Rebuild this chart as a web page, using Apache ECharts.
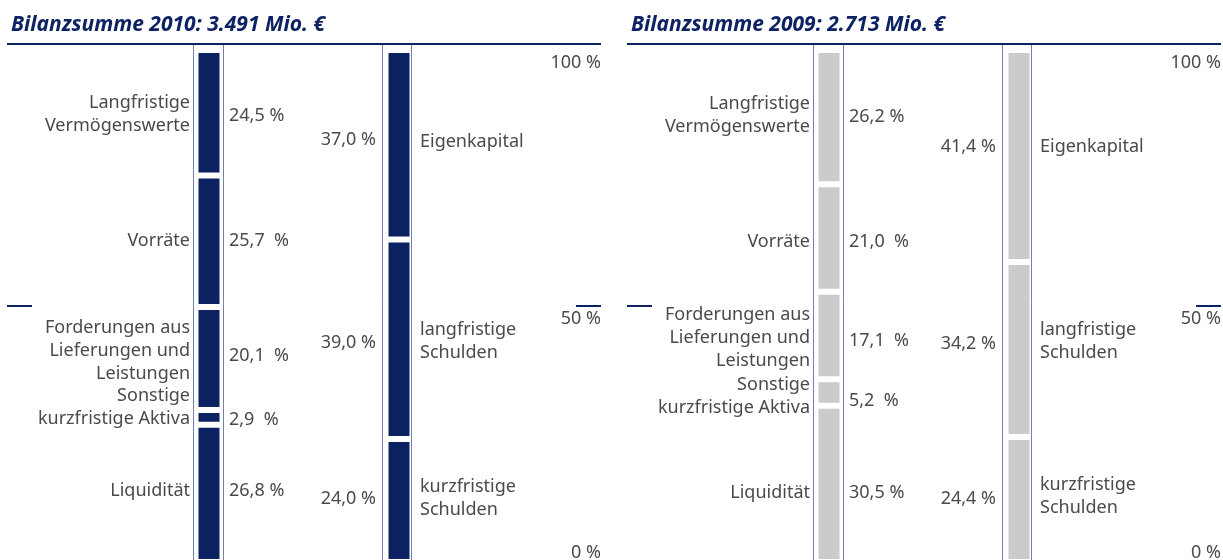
<!DOCTYPE html>
<html>
<head>
<meta charset="utf-8">
<script src="https://cdn.jsdelivr.net/npm/echarts@6/dist/echarts.min.js"></script>
<style>
  html, body { margin: 0; padding: 0; background: #fff; }
  #chart { width: 1223px; height: 560px; }
</style>
</head>
<body>
<div id="chart"></div>
<script>
// Bilanzstruktur in % der Bilanzsumme (von oben nach unten)
const aktivaNames = ['Langfristige\nVermögenswerte', 'Vorräte', 'Forderungen aus\nLieferungen und\nLeistungen', 'Sonstige\nkurzfristige Aktiva', 'Liquidität'];
const passivaNames = ['Eigenkapital', 'langfristige\nSchulden', 'kurzfristige\nSchulden'];

const aktiva2010 = [24.5, 25.7, 20.1, 2.9, 26.8];
const passiva2010 = [37.0, 39.0, 24.0];
const aktiva2009 = [26.2, 21.0, 17.1, 5.2, 30.5];
const passiva2009 = [41.4, 34.2, 24.4];

const aktivaLabels2010 = ['24,5 %', '25,7  %', '20,1  %', '2,9  %', '26,8 %'];
const passivaLabels2010 = ['37,0 %', '39,0 %', '24,0 %'];
const aktivaLabels2009 = ['26,2 %', '21,0  %', '17,1  %', '5,2  %', '30,5 %'];
const passivaLabels2009 = ['41,4 %', '34,2 %', '24,4 %'];

const scaleTicks = [0, 50, 100];
const scaleLabels = ['0 %', '50 %', '100 %'];

const titles = ['Bilanzsumme 2010: 3.491 Mio. €', 'Bilanzsumme 2009: 2.713 Mio. €'];

// kleine Verschiebungen der Beschriftungen wie im Original
const labelShift = [
  { an: [2, 0, -8, -10, -3], av: [3, 0, -3, 3, -3], pn: [-3, 2, -2], pv: [-5, 4, -2] },
  { an: [-2, 4, 2, 4, 9], av: [0, 4, 5, 8, 9], pn: [-9, -8, -3], pv: [-9, -6, -1] }
];

const NAVY = '#0c2262';
const TEXT = '#4a4a4a';
const FONT = 'Noto Sans';
const FRAME = '#7180ad';

const panels = [
  { ox: 0, aktiva: aktiva2010, passiva: passiva2010, al: aktivaLabels2010, pl: passivaLabels2010, color: '#0b2160' },
  { ox: 620, aktiva: aktiva2009, passiva: passiva2009, al: aktivaLabels2009, pl: passivaLabels2009, color: '#cbcbcb' }
];

const grid = [], xAxis = [], yAxis = [], series = [], title = [], graphic = [];

const labelBase = { color: TEXT, fontFamily: FONT, fontSize: 18, lineHeight: 23 };

panels.forEach((p, pi) => {
  const ox = p.ox;
  const g0 = grid.length;
  // Rahmen der Säulen
  grid.push({ left: ox + 193.5, top: 44, width: 30, height: 540, show: true, borderColor: FRAME, borderWidth: 1, z: 10, outerBoundsMode: 'none' });
  grid.push({ left: ox + 382.5, top: 44, width: 29, height: 540, show: true, borderColor: FRAME, borderWidth: 1, z: 10, outerBoundsMode: 'none' });
  // Säulen
  grid.push({ left: ox + 194, top: 50, width: 30, height: 512, outerBoundsMode: 'none' });
  grid.push({ left: ox + 385, top: 50, width: 28, height: 512, outerBoundsMode: 'none' });

  for (let k = 0; k < 4; k++) {
    xAxis.push({ type: 'category', gridIndex: g0 + k, data: [''], show: false });
  }
  const y0 = yAxis.length;
  const hiddenY = (gi) => ({ type: 'value', gridIndex: gi, min: 0, max: 100, show: false });
  yAxis.push(hiddenY(g0));
  yAxis.push(hiddenY(g0 + 1));
  yAxis.push(hiddenY(g0 + 2));      // Aktiva
  yAxis.push(hiddenY(g0 + 3));      // Passiva
  // Markierung 50 % links
  yAxis.push({
    type: 'value', gridIndex: g0 + 2, min: 0, max: 100, position: 'left', offset: 162,
    axisLine: { show: false }, splitLine: { show: false }, axisLabel: { show: false },
    axisTick: { show: true, customValues: [scaleTicks[1]], length: 25, lineStyle: { color: NAVY, width: 2 } }
  });
  // Skala rechts
  yAxis.push({
    type: 'value', gridIndex: g0 + 3, min: 0, max: 100, position: 'right', offset: 163,
    axisLine: { show: false }, splitLine: { show: false },
    axisTick: { show: true, customValues: [scaleTicks[1]], length: 25, lineStyle: { color: NAVY, width: 2 } },
    axisLabel: {
      customValues: [scaleTicks[1], scaleTicks[2]], margin: 25, align: 'right', verticalAlign: 'top',
      color: TEXT, fontFamily: FONT, fontSize: 18, lineHeight: 26,
      formatter: (v) => scaleLabels[scaleTicks.indexOf(v)]
    }
  });
  yAxis.push({
    type: 'value', gridIndex: g0 + 3, min: 0, max: 100, position: 'right', offset: 163,
    axisLine: { show: false }, splitLine: { show: false }, axisTick: { show: false },
    axisLabel: {
      customValues: [scaleTicks[0]], margin: 25, align: 'right', verticalAlign: 'bottom',
      color: TEXT, fontFamily: FONT, fontSize: 18,
      formatter: (v) => scaleLabels[scaleTicks.indexOf(v)]
    }
  });
  // Platzhalter-Serien für die Rahmen-Gitter
  series.push({ type: 'bar', xAxisIndex: g0, yAxisIndex: y0, data: [], silent: true });
  series.push({ type: 'bar', xAxisIndex: g0 + 1, yAxisIndex: y0 + 1, data: [], silent: true });

  const sh = labelShift[pi];
  const addColumn = (values, names, texts, axisIdx, yIdx, nameSide, valSide, nDist, vDist, nShift, vShift, key) => {
    for (let i = values.length - 1; i >= 0; i--) {
      series.push({
        type: 'bar', xAxisIndex: axisIdx, yAxisIndex: yIdx, stack: key, barWidth: 27, barGap: '-100%',
        data: [values[i]], silent: true,
        itemStyle: { color: p.color, borderColor: '#ffffff', borderWidth: 3 },
        label: Object.assign({ show: true, position: nameSide, distance: nDist, formatter: names[i] }, labelBase),
        labelLayout: { dy: nShift[i] }
      });
    }
    for (let i = values.length - 1; i >= 0; i--) {
      series.push({
        type: 'bar', xAxisIndex: axisIdx, yAxisIndex: yIdx, stack: key + 'v', barWidth: 27, barGap: '-100%',
        data: [values[i]], silent: true,
        itemStyle: { color: 'rgba(0,0,0,0)', borderWidth: 0 },
        label: Object.assign({ show: true, position: valSide, distance: vDist, formatter: texts[i] }, labelBase),
        labelLayout: { dy: vShift[i] }
      });
    }
  };
  addColumn(p.aktiva, aktivaNames, p.al, g0 + 2, y0 + 2, 'left', 'right', 5.5, 6.5, sh.an, sh.av, 'a' + pi);
  addColumn(p.passiva, passivaNames, p.pl, g0 + 3, y0 + 3, 'right', 'left', 7.5, 9.5, sh.pn, sh.pv, 'p' + pi);

  title.push({
    text: titles[pi], left: ox + 6, top: 10,
    textStyle: { color: NAVY, fontFamily: FONT, fontSize: 21, fontStyle: 'italic', fontWeight: 'bold' }
  });
  graphic.push({
    type: 'line', z: 100,
    shape: { x1: ox + 7, y1: 44, x2: ox + 601, y2: 44 },
    style: { stroke: NAVY, lineWidth: 2 }
  });
});

const chart = echarts.init(document.getElementById('chart'));
chart.setOption({
  backgroundColor: '#ffffff',
  animation: false,
  title: title,
  grid: grid,
  xAxis: xAxis,
  yAxis: yAxis,
  series: series,
  graphic: graphic,
  tooltip: { show: false }
});
</script>
</body>
</html>
